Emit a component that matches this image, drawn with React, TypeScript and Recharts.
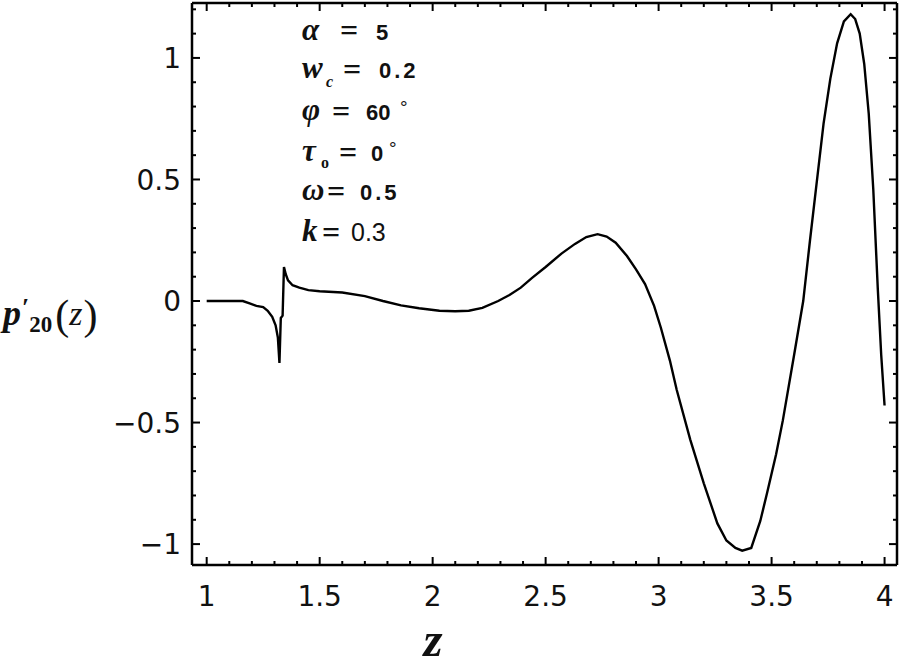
import { LineChart, Line, XAxis, YAxis, ReferenceLine } from 'recharts'

// z positions sampled along the curve
const zValues = [
  1.0, 1.1, 1.16, 1.19, 1.22, 1.25, 1.27, 1.29, 1.305, 1.315, 1.322, 1.328, 1.336, 1.342,
  1.35, 1.36, 1.38, 1.41, 1.45, 1.5, 1.6, 1.7, 1.78, 1.86, 1.94, 2.03, 2.1, 2.16, 2.22,
  2.29, 2.34, 2.39, 2.44, 2.5, 2.57, 2.63, 2.68, 2.73, 2.77, 2.81, 2.86, 2.9, 2.94, 2.98,
  3.01, 3.05, 3.08, 3.14, 3.2, 3.26, 3.3, 3.34, 3.37, 3.41, 3.45, 3.48, 3.52, 3.55, 3.6,
  3.64, 3.67, 3.7, 3.73, 3.76, 3.79, 3.82, 3.85, 3.87, 3.89, 3.91, 3.93, 3.95, 3.97, 3.985, 4.0,
]

// p'_20(z)
const p20Values = [
  0, 0, 0, -0.01, -0.02, -0.025, -0.04, -0.065, -0.1, -0.15, -0.255, -0.07, -0.06, 0.14,
  0.11, 0.085, 0.065, 0.055, 0.045, 0.04, 0.035, 0.02, 0.0, -0.018, -0.03, -0.04, -0.042, -0.04, -0.028,
  0.0, 0.025, 0.055, 0.095, 0.14, 0.195, 0.235, 0.263, 0.275, 0.265, 0.24, 0.185, 0.13, 0.07, -0.02,
  -0.11, -0.245, -0.365, -0.57, -0.75, -0.915, -0.985, -1.016, -1.027, -1.016, -0.905, -0.79, -0.63, -0.49, -0.22,
  0.0, 0.25, 0.49, 0.73, 0.915, 1.06, 1.15, 1.18, 1.16, 1.1, 0.975, 0.77, 0.46, 0.05, -0.22, -0.43,
]

const xMajorTicks = [1, 1.5, 2, 2.5, 3, 3.5, 4]
const yMajorTicks = [-1, -0.5, 0, 0.5, 1]

const X_DOMAIN: [number, number] = [0.935, 4.055]
const Y_DOMAIN: [number, number] = [-1.086, 1.226]

const PLOT_TOP = 3
const PLOT_RIGHT = 897

const data = zValues.map((z, i) => ({ z, p: p20Values[i] }))

const xTicks: number[] = []
for (let i = 10; i <= 40; i++) xTicks.push(i / 10)
const yTicks: number[] = []
for (let i = -10; i <= 12; i++) yTicks.push(i / 10)

const isMajor = (v: number, majors: number[]) => majors.some((m) => Math.abs(m - v) < 1e-6)
const fmt = (v: number) => (v < 0 ? '\u2212' + String(-v) : String(v))

const tickFont = { fontFamily: '"DejaVu Sans", sans-serif', fontSize: 28, fill: '#111' }

function BottomTick(props: any) {
  const { x, y, payload } = props
  const major = isMajor(payload.value, xMajorTicks)
  const len = major ? 8 : 4
  return (
    <g>
      <line x1={x} x2={x} y1={y} y2={y - len} stroke="#000" strokeWidth={2} />
      <line x1={x} x2={x} y1={PLOT_TOP} y2={PLOT_TOP + len} stroke="#000" strokeWidth={2} />
      {major && (
        <text x={x} y={y + 41} textAnchor="middle" {...tickFont}>
          {fmt(payload.value)}
        </text>
      )}
    </g>
  )
}

function LeftTick(props: any) {
  const { x, y, payload } = props
  const major = isMajor(payload.value, yMajorTicks)
  const len = major ? 8 : 4
  return (
    <g>
      <line x1={x} x2={x + len} y1={y} y2={y} stroke="#000" strokeWidth={2} />
      <line x1={PLOT_RIGHT} x2={PLOT_RIGHT - len} y1={y} y2={y} stroke="#000" strokeWidth={2} />
      {major && (
        <text x={x - 11} y={y} dy="0.36em" textAnchor="end" {...tickFont}>
          {fmt(payload.value)}
        </text>
      )}
    </g>
  )
}

const serif = '"Liberation Serif", "DejaVu Serif", serif'
const sans = '"Liberation Sans", Arial, sans-serif'

function Annotations() {
  const g = { fontFamily: serif, fontSize: 31, fontWeight: 'bold' as const, fontStyle: 'italic' as const, fill: '#111' }
  const eq = { fontFamily: serif, fontSize: 32, fontWeight: 'bold' as const, fill: '#111' }
  const num = { fontFamily: sans, fontSize: 22, fontWeight: 'bold' as const, fill: '#111' }
  const sub = { fontFamily: serif, fontSize: 16, fontWeight: 'bold' as const, fontStyle: 'italic' as const, fill: '#111' }
  const deg = { fontFamily: sans, fontSize: 19, fill: '#111' }
  return (
    <g>
      <text x={302} y={40} {...g}>α</text>
      <text x={340} y={41} {...eq}>=</text>
      <text x={376} y={40} {...num}>5</text>

      <text x={302} y={78} {...g}>w</text>
      <text x={326} y={87} {...sub}>c</text>
      <text x={343} y={80} {...eq}>=</text>
      <text x={379} y={78} {...num} letterSpacing={3}>0.2</text>

      <text x={302} y={120} {...g}>φ</text>
      <text x={332} y={122} {...eq}>=</text>
      <text x={366} y={120} {...num}>60</text>
      <text x={400} y={114} {...deg}>°</text>

      <text x={302} y={161} {...g}>τ</text>
      <text x={321} y={168} {...sub} fontStyle="normal">o</text>
      <text x={339} y={163} {...eq}>=</text>
      <text x={371} y={161} {...num}>0</text>
      <text x={389} y={155} {...deg}>°</text>

      <text x={302} y={200} {...g}>ω</text>
      <text x={327} y={202} {...eq}>=</text>
      <text x={360} y={200} {...num} letterSpacing={3}>0.5</text>

      <text x={302} y={241} {...g}>k</text>
      <text x={322} y={243} {...eq}>=</text>
      <text x={351} y={241} fontFamily={sans} fontSize={25} fill="#111">0.3</text>
    </g>
  )
}

function AxisTitles() {
  return (
    <g fill="#111">
      <text x={3} y={325} fontFamily={serif}>
        <tspan fontSize={36} fontWeight="bold" fontStyle="italic">p</tspan>
        <tspan fontSize={26} fontWeight="bold" dx={1} dy={-9}>′</tspan>
        <tspan fontSize={23} fontWeight="bold" dy={16}>20</tspan>
        <tspan fontSize={42} dx={3} dy={-3}>(</tspan>
        <tspan fontSize={34} fontStyle="italic" dy={-4}>z</tspan>
        <tspan fontSize={42} dx={1} dy={4}>)</tspan>
      </text>

      <text x={433} y={656} textAnchor="middle" fontFamily={serif} fontSize={49} fontWeight="bold" fontStyle="italic">z</text>
    </g>
  )
}

export default function App() {
  return (
    <div style={{ position: 'absolute', left: 0, top: 0, width: 905, height: 667, background: '#fff' }}>
      <LineChart
        width={905}
        height={667}
        data={data}
        margin={{ top: PLOT_TOP, right: 905 - PLOT_RIGHT, left: 112, bottom: 42 }}
      >
        <XAxis
          dataKey="z"
          type="number"
          domain={X_DOMAIN}
          allowDataOverflow
          ticks={xTicks}
          interval={0}
          height={60}
          tickSize={0}
          tickMargin={0}
          tickLine={false}
          axisLine={{ stroke: '#000', strokeWidth: 2.5 }}
          tick={<BottomTick />}
        />
        <YAxis
          type="number"
          domain={Y_DOMAIN}
          allowDataOverflow
          ticks={yTicks}
          interval={0}
          width={80}
          tickSize={0}
          tickMargin={0}
          tickLine={false}
          axisLine={{ stroke: '#000', strokeWidth: 2.5 }}
          tick={<LeftTick />}
        />
        <ReferenceLine y={Y_DOMAIN[1]} stroke="#000" strokeWidth={2.5} />
        <ReferenceLine x={X_DOMAIN[1]} stroke="#000" strokeWidth={2.5} />
        <Line
          type="linear"
          dataKey="p"
          stroke="#000"
          strokeWidth={2.4}
          dot={false}
          isAnimationActive={false}
        />
      </LineChart>
      <svg
        width={905}
        height={667}
        style={{ position: 'absolute', left: 0, top: 0, pointerEvents: 'none' }}
      >
        <Annotations />
        <AxisTitles />
      </svg>
    </div>
  )
}
